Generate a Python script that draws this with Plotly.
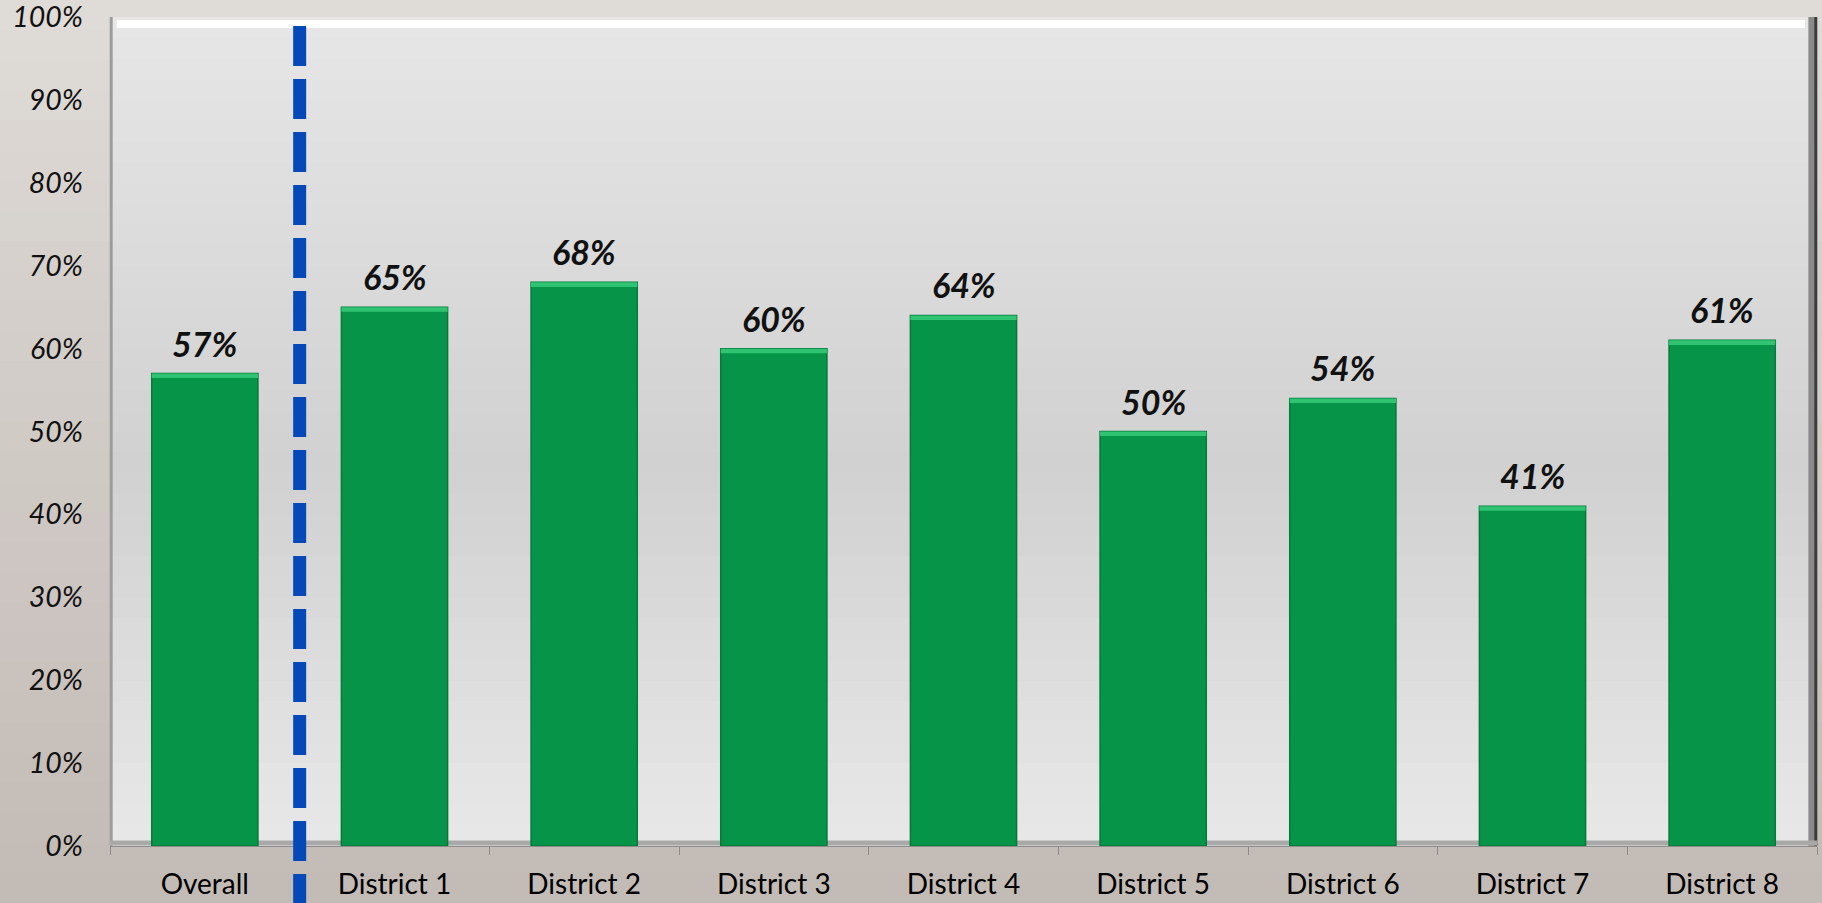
import plotly.graph_objects as go

# ---- data ----
categories = ["Overall", "District 1", "District 2", "District 3", "District 4",
              "District 5", "District 6", "District 7", "District 8"]
values = [57, 65, 68, 60, 64, 50, 54, 41, 61]
y_ticks = [0, 10, 20, 30, 40, 50, 60, 70, 80, 90, 100]
y_tick_labels = [f"{t}%" for t in y_ticks]

# ---- geometry / style ----
W, H = 1822, 903
M = dict(l=110, r=5, t=15, b=57)
PANEL_TOP = 17
FONT = "Lato, 'Open Sans', Arial, sans-serif"
BAR_GREEN = "#069548"
BAR_EDGE = "#057a3b"
BAR_HILITE = "#30c472"

plot_w = W - M["l"] - M["r"]
plot_h = H - M["t"] - M["b"]


def px_to_paper_y(py):
    return (H - M["b"] - py) / plot_h


def px_to_paper_x(px):
    return (px - M["l"]) / plot_w


def mix(c1, c2, f):
    a = [int(c1[i:i + 2], 16) for i in (1, 3, 5)]
    b = [int(c2[i:i + 2], 16) for i in (1, 3, 5)]
    return "#" + "".join(f"{round(x + (y - x) * f):02x}" for x, y in zip(a, b))


def gradient_bands(stops, x0, x1, top_px, bot_px, n=40):
    """Vertical gradient made of thin stacked rectangles (paper coords)."""
    out = []
    for i in range(n):
        f = (i + 0.5) / n
        for j in range(len(stops) - 1):
            if stops[j][0] <= f <= stops[j + 1][0]:
                g = (f - stops[j][0]) / (stops[j + 1][0] - stops[j][0])
                col = mix(stops[j][1], stops[j + 1][1], g)
                break
        ya = top_px + (bot_px - top_px) * i / n
        yb = top_px + (bot_px - top_px) * (i + 1) / n + 0.6
        out.append(dict(type="rect", xref="paper", yref="paper", layer="below",
                        x0=x0, x1=x1, y0=px_to_paper_y(yb), y1=px_to_paper_y(ya),
                        line=dict(width=0), fillcolor=col))
    return out


panel_top = px_to_paper_y(PANEL_TOP)

shapes = []
# figure backdrop
shapes += gradient_bands([(0, "#e0dcd8"), (0.35, "#d4cfcb"), (1, "#c3bab5")],
                         px_to_paper_x(0), px_to_paper_x(W), 0, H, n=30)
# plot-area panel
shapes += gradient_bands([(0, "#e6e6e6"), (0.55, "#d1d1d1"), (1, "#e8e8e8")],
                         0, 1, PANEL_TOP, H - M["b"], n=40)
# panel bevel: highlight on top, shadow on right / bottom, thin edge on left
shapes += [
    dict(type="line", xref="paper", yref="paper", layer="below",
         x0=0.004, x1=0.993, y0=px_to_paper_y(PANEL_TOP + 7), y1=px_to_paper_y(PANEL_TOP + 7),
         line=dict(color="#ffffff", width=8)),
    dict(type="line", xref="paper", yref="paper", layer="below",
         x0=0.997, x1=0.997, y0=0, y1=panel_top,
         line=dict(color="#8a8a8a", width=7)),
    dict(type="line", xref="paper", yref="paper", layer="below",
         x0=0.9993, x1=0.9993, y0=0, y1=panel_top,
         line=dict(color="#3c3c3c", width=3)),
    dict(type="line", xref="paper", yref="paper", layer="below",
         x0=0.0007, x1=0.0007, y0=0, y1=panel_top,
         line=dict(color="#9c9c9c", width=3)),
    dict(type="line", xref="paper", yref="paper", layer="below",
         x0=0, x1=1, y0=px_to_paper_y(H - M["b"] - 3), y1=px_to_paper_y(H - M["b"] - 3),
         line=dict(color="#a9a9a9", width=5)),
]
# dashed separator between the overall bar and the districts
shapes.append(dict(type="line", xref="x", yref="paper", layer="above",
                   x0=0.5, x1=0.5, y0=px_to_paper_y(26), y1=px_to_paper_y(H + 10),
                   line=dict(color="#0549b8", width=13, dash="40px,13px")))

fig = go.Figure()
fig.add_trace(go.Bar(
    x=categories, y=values,
    marker=dict(color=BAR_GREEN, line=dict(color=BAR_EDGE, width=1.5)),
    hoverinfo="x+y",
))
# bevelled top edge of each bar
fig.add_trace(go.Bar(
    x=categories, y=[0.55] * len(values), base=[v - 0.55 for v in values],
    marker=dict(color=BAR_HILITE, line=dict(width=0)),
    hoverinfo="skip",
))

annotations = [
    dict(x=c, y=v, xref="x", yref="y", text=f"{v}%", showarrow=False,
         yanchor="bottom", yshift=8,
         font=dict(family=FONT, size=34, color="#111111", weight="bold",
                   style="italic"))
    for c, v in zip(categories, values)
]

fig.update_layout(
    width=W, height=H, autosize=False,
    margin=dict(l=M["l"], r=M["r"], t=M["t"], b=M["b"], pad=0, autoexpand=False),
    paper_bgcolor="#cfc8c3",
    plot_bgcolor="rgba(0,0,0,0)",
    barmode="overlay",
    bargap=0.44,
    showlegend=False,
    shapes=shapes,
    annotations=annotations,
    font=dict(family=FONT, color="#000000"),
    xaxis=dict(
        type="category", showgrid=False, zeroline=False, automargin=False,
        showline=True, linecolor="#8c8c8c", linewidth=1,
        ticks="outside", tickson="boundaries", ticklen=8, tickcolor="#8c8c8c",
        tickfont=dict(family=FONT, size=28, color="#000000"),
        ticklabelstandoff=13, ticklabeloverflow="allow",
    ),
    yaxis=dict(
        range=[0, 100.25], tickvals=y_ticks, ticktext=y_tick_labels,
        showgrid=False, zeroline=False, showline=False, ticks="", automargin=False,
        tickfont=dict(family=FONT, size=28.5, color="#111111", style="italic"),
        ticklabelstandoff=26, ticklabeloverflow="allow",
    ),
)

fig.write_html("out.html")
